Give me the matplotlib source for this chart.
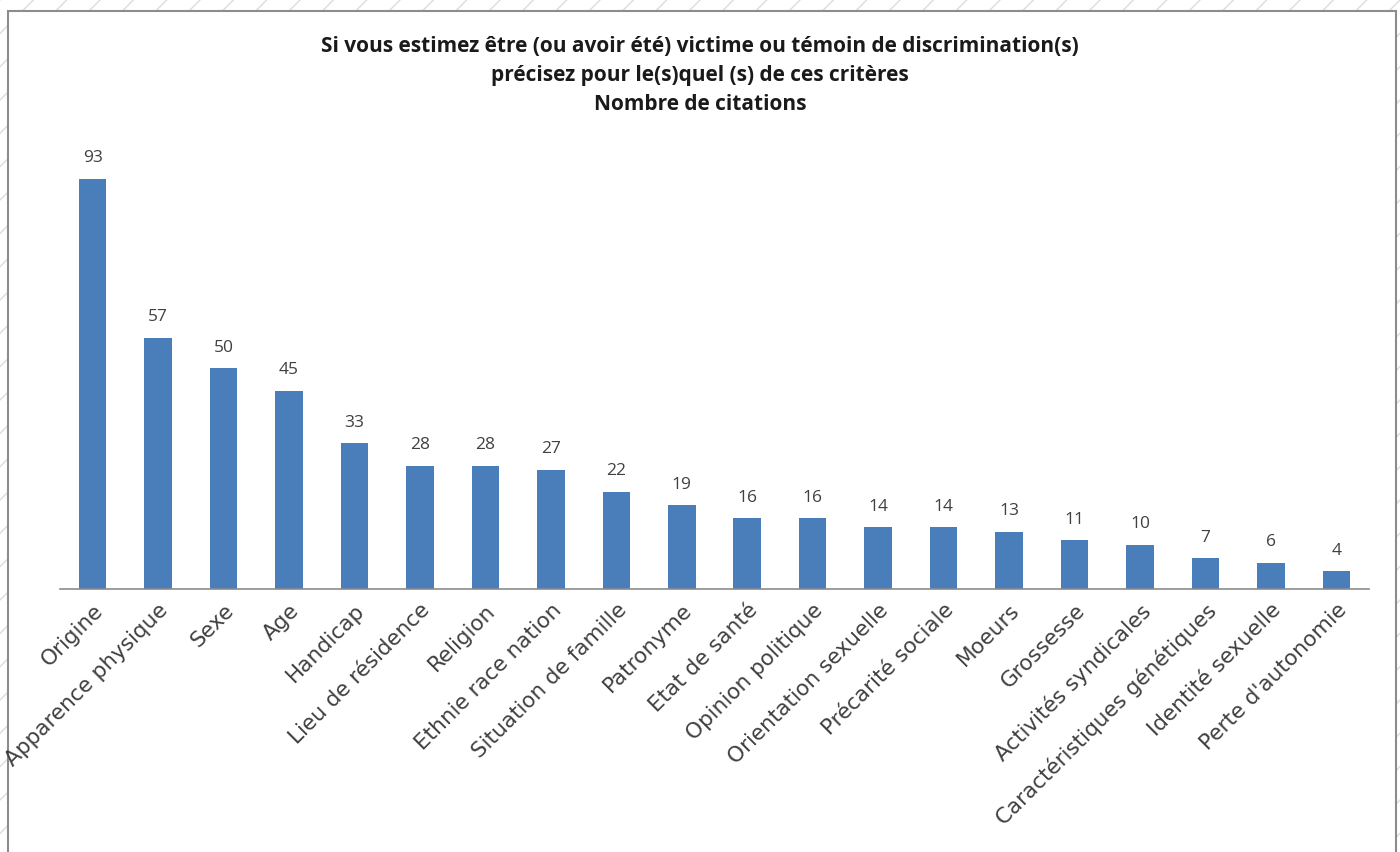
import matplotlib.pyplot as plt
from matplotlib.patches import Rectangle

# data
categories = ["Origine", "Apparence physique", "Sexe", "Age", "Handicap",
              "Lieu de résidence", "Religion", "Ethnie race nation",
              "Situation de famille", "Patronyme", "Etat de santé",
              "Opinion politique", "Orientation sexuelle", "Précarité sociale",
              "Moeurs", "Grossesse", "Activités syndicales",
              "Caractéristiques génétiques", "Identité sexuelle",
              "Perte d'autonomie"]
citations = [93, 57, 50, 45, 33, 28, 28, 27, 22, 19, 16, 16, 14, 14, 13, 11, 10, 7, 6, 4]

title = ("Si vous estimez être (ou avoir été) victime ou témoin de discrimination(s)\n"
         "précisez pour le(s)quel (s) de ces critères\n"
         "Nombre de citations")

plt.rcParams['font.family'] = ['Open Sans', 'DejaVu Sans']

fig = plt.figure(figsize=(14, 8.52), dpi=100)

# hatched backdrop with a framed white panel
fig.patches.append(Rectangle((0, 0), 1, 1, transform=fig.transFigure,
                             facecolor='white', edgecolor='#dcdcdc',
                             hatch='/', linewidth=0, zorder=-3))
fig.patches.append(Rectangle((8 / 1400, -0.01), 1388 / 1400, 1 - 11 / 852 + 0.01,
                             transform=fig.transFigure, facecolor='white',
                             edgecolor='#8c8c8c', linewidth=1.5, zorder=-2))

ax = fig.add_axes([60 / 1400, 1 - 589 / 852, 1309 / 1400, 441 / 852])
x = range(len(categories))
bars = ax.bar(x, citations, width=0.42, color='#4a7ebb')
ax.set_xlim(-0.5, len(categories) - 0.5)
ax.set_ylim(0, 100)

for b, v in zip(bars, citations):
    ax.annotate(str(v), (b.get_x() + b.get_width() / 2, v), xytext=(0, 9),
                textcoords='offset points', ha='center', va='bottom',
                fontsize=12.5, color='#404040')

ax.set_xticks(list(x))
ax.set_xticklabels(categories, rotation=45, ha='right', va='top',
                   rotation_mode='anchor', fontsize=15.5, color='#404040',
                   family='DejaVu Sans')
ax.tick_params(axis='x', length=0, pad=8)
ax.set_yticks([])
for s in ['top', 'right', 'left']:
    ax.spines[s].set_visible(False)
ax.spines['bottom'].set_color('#8c8c8c')
ax.spines['bottom'].set_linewidth(1.2)

fig.text(0.5, 1 - 36 / 852, title, ha='center', va='top', fontsize=15,
         fontweight='bold', color='#1a1a1a', linespacing=1.5)

fig.savefig('out.png', dpi=100)
